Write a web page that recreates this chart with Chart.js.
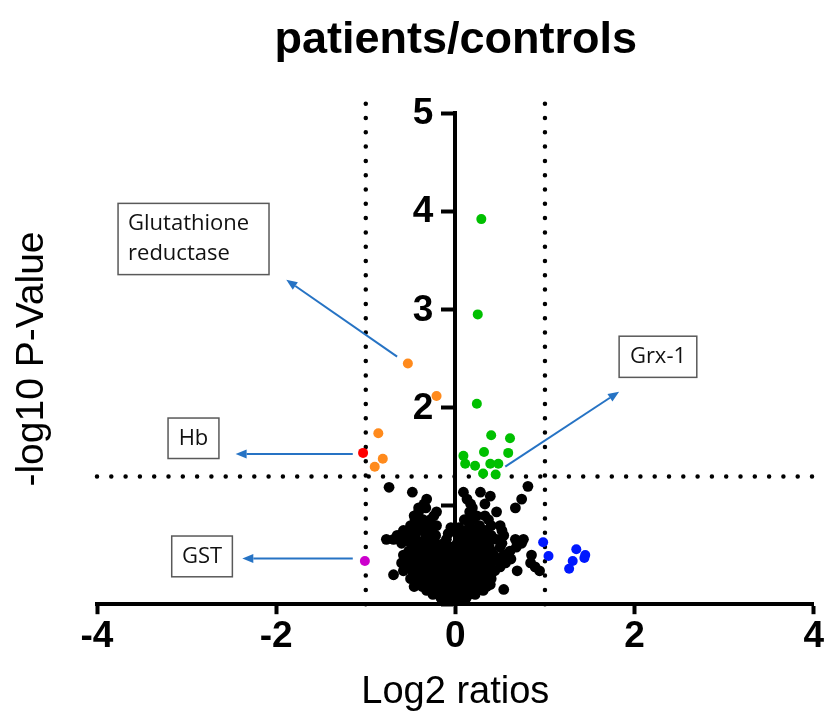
<!DOCTYPE html>
<html>
<head>
<meta charset="utf-8">
<script src="https://cdn.jsdelivr.net/npm/chart.js@4.4.1/dist/chart.umd.min.js"></script>
<style>
  html, body { margin: 0; padding: 0; background: #fff; }
</style>
</head>
<body>
<canvas id="volcano" width="824" height="718"></canvas>
<script>
// axis ticks
const xTicks = [-4, -2, 0, 2, 4];
const yTicks = [0, 1, 2, 3, 4, 5];
const yTickLabels = ["", "", "2", "3", "4", "5"];

// cut-offs: -log10(0.05) and log2 fold change of +/-1
const pCutoff = 1.3;
const foldCutoffs = [-1, 1];

// coloured proteins [log2 ratio, -log10 p]
const orangePoints = [[-0.53, 2.45], [-0.21, 2.12], [-0.86, 1.74], [-0.81, 1.48], [-0.90, 1.40]];
const redPoints = [[-1.03, 1.54]];
const greenPoints = [
  [0.29, 3.92], [0.25, 2.95], [0.24, 2.04], [0.40, 1.72], [0.61, 1.69], [0.32, 1.55],
  [0.59, 1.54], [0.09, 1.51], [0.11, 1.43], [0.22, 1.41], [0.39, 1.43], [0.48, 1.43],
  [0.31, 1.33], [0.45, 1.32]
];
const magentaPoints = [[-1.01, 0.44]];
const bluePoints = [[0.98, 0.63], [1.04, 0.49], [1.35, 0.56], [1.44, 0.47], [1.31, 0.44], [1.27, 0.36], [1.45, 0.5]];

// non significant proteins
const blackPoints = [
  [-0.08, 0.02], [-0.02, 0.02], [0.04, 0.02],
  [-0.16, 0.06], [-0.09, 0.06], [-0.02, 0.06], [0.05, 0.06], [0.12, 0.06],
  [-0.25, 0.10], [-0.17, 0.10], [-0.09, 0.10], [-0.01, 0.10], [0.07, 0.10], [0.15, 0.10], [0.22, 0.10],
  [-0.32, 0.14], [-0.24, 0.14], [-0.16, 0.14], [-0.08, 0.14], [0.00, 0.14], [0.08, 0.14], [0.16, 0.14], [0.24, 0.14], [0.31, 0.14],
  [0.54, 0.15],
  [-0.46, 0.18], [-0.37, 0.18], [-0.29, 0.18], [-0.21, 0.18], [-0.13, 0.18], [-0.05, 0.18], [0.03, 0.18], [0.11, 0.18], [0.19, 0.18], [0.27, 0.18], [0.35, 0.18],
  [0.39, 0.20],
  [-0.41, 0.22], [-0.33, 0.22], [-0.25, 0.22], [-0.17, 0.22], [-0.09, 0.22], [-0.01, 0.22], [0.07, 0.22], [0.15, 0.22], [0.23, 0.22], [0.31, 0.22],
  [-0.50, 0.26], [-0.40, 0.26], [-0.32, 0.26], [-0.24, 0.26], [-0.16, 0.26], [-0.08, 0.26], [0.00, 0.26], [0.08, 0.26], [0.16, 0.26], [0.24, 0.26], [0.32, 0.26], [0.40, 0.26],
  [-0.69, 0.30], [-0.44, 0.30], [-0.36, 0.30], [-0.28, 0.30], [-0.20, 0.30], [-0.12, 0.30], [-0.04, 0.30], [0.04, 0.30], [0.12, 0.30], [0.20, 0.30], [0.28, 0.30], [0.39, 0.30],
  [-0.58, 0.34], [-0.48, 0.34], [-0.40, 0.34], [-0.32, 0.34], [-0.24, 0.34], [-0.16, 0.34], [-0.08, 0.34], [0.00, 0.34], [0.08, 0.34], [0.16, 0.34], [0.24, 0.34], [0.32, 0.34], [0.44, 0.34], [0.69, 0.34],
  [-0.54, 0.38], [-0.45, 0.38], [-0.37, 0.38], [-0.29, 0.38], [-0.21, 0.38], [-0.13, 0.38], [-0.05, 0.38], [0.03, 0.38], [0.11, 0.38], [0.19, 0.38], [0.27, 0.38], [0.36, 0.38], [0.50, 0.38], [0.89, 0.38],
  [-0.60, 0.42], [-0.50, 0.42], [-0.41, 0.42], [-0.33, 0.42], [-0.25, 0.42], [-0.17, 0.42], [-0.09, 0.42], [-0.01, 0.42], [0.07, 0.42], [0.15, 0.42], [0.23, 0.42], [0.31, 0.42], [0.40, 0.42], [0.56, 0.42], [0.84, 0.42], [0.94, 0.34],
  [-0.56, 0.46], [-0.45, 0.46], [-0.37, 0.46], [-0.29, 0.46], [-0.21, 0.46], [-0.13, 0.46], [-0.05, 0.46], [0.03, 0.46], [0.11, 0.46], [0.19, 0.46], [0.27, 0.46], [0.35, 0.46], [0.46, 0.46], [0.62, 0.46],
  [-0.58, 0.50], [-0.49, 0.50], [-0.40, 0.50], [-0.32, 0.50], [-0.24, 0.50], [-0.16, 0.50], [-0.08, 0.50], [0.00, 0.50], [0.08, 0.50], [0.16, 0.50], [0.24, 0.50], [0.33, 0.50], [0.43, 0.50], [0.54, 0.50], [0.85, 0.50],
  [-0.52, 0.54], [-0.43, 0.54], [-0.35, 0.54], [-0.27, 0.54], [-0.19, 0.54], [-0.11, 0.54], [-0.03, 0.54], [0.05, 0.54], [0.13, 0.54], [0.21, 0.54], [0.29, 0.54], [0.40, 0.54], [0.61, 0.54],
  [-0.45, 0.58], [-0.36, 0.58], [-0.28, 0.58], [-0.20, 0.58], [-0.12, 0.58], [-0.04, 0.58], [0.04, 0.58], [0.12, 0.58], [0.20, 0.58], [0.28, 0.58], [0.38, 0.58], [0.50, 0.58], [0.68, 0.58],
  [-0.60, 0.62], [-0.50, 0.62], [-0.40, 0.62], [-0.30, 0.62], [-0.22, 0.62], [-0.13, 0.62], [0.02, 0.62], [0.10, 0.62], [0.18, 0.62], [0.27, 0.62], [0.37, 0.62], [0.52, 0.62], [0.74, 0.62],
  [-0.77, 0.66], [-0.69, 0.66], [-0.62, 0.66], [-0.54, 0.66], [-0.44, 0.66], [-0.34, 0.66], [-0.24, 0.66], [-0.10, 0.66], [0.06, 0.66], [0.14, 0.66], [0.22, 0.66], [0.30, 0.66], [0.46, 0.66], [0.67, 0.66], [0.76, 0.66],
  [-0.65, 0.70], [-0.55, 0.70], [-0.45, 0.70], [-0.32, 0.70], [-0.22, 0.70], [-0.08, 0.72], [0.03, 0.72], [0.09, 0.70], [0.18, 0.70], [0.28, 0.70], [0.40, 0.70], [0.54, 0.70],
  [-0.58, 0.75], [-0.48, 0.75], [-0.38, 0.75], [-0.27, 0.75], [0.12, 0.75], [0.22, 0.75], [0.33, 0.75], [0.52, 0.75],
  [-0.50, 0.80], [-0.41, 0.80], [-0.30, 0.80], [-0.21, 0.80], [-0.05, 0.78], [0.04, 0.78], [0.16, 0.80], [0.27, 0.80], [0.40, 0.80], [0.50, 0.80],
  [-0.45, 0.86], [-0.36, 0.86], [-0.28, 0.86], [0.10, 0.86], [0.20, 0.86], [0.37, 0.86],
  [-0.46, 0.90], [-0.24, 0.90], [0.24, 0.90], [0.33, 0.90],
  [-0.41, 0.94], [-0.21, 0.94], [0.16, 0.94], [0.46, 0.94],
  [-0.41, 0.98], [-0.33, 0.98], [0.19, 0.98], [0.67, 0.98],
  [-0.35, 1.02], [0.17, 1.02], [0.33, 1.02],
  [-0.32, 1.07], [0.13, 1.07], [0.74, 1.07],
  [0.39, 1.10],
  [-0.48, 1.14], [0.09, 1.14], [0.28, 1.14],
  [-0.74, 1.19], [0.81, 1.20]
];

// labelled proteins: box corners and arrow in data units
const callouts = [
  { lines: ["Glutathione", "reductase"], align: "left", box: [-3.765, 4.08, -2.08, 3.355], from: [-0.65, 2.52], to: [-1.887, 3.303] },
  { lines: ["Hb"], align: "center", box: [-3.207, 1.895, -2.639, 1.483], from: [-1.145, 1.528], to: [-2.453, 1.528] },
  { lines: ["GST"], align: "center", box: [-3.166, 0.694, -2.489, 0.279], from: [-1.145, 0.466], to: [-2.378, 0.466] },
  { lines: ["Grx-1"], align: "center", box: [1.828, 2.728, 2.695, 2.309], from: [0.557, 1.401], to: [1.828, 2.163] }
];

const toXY = arr => arr.map(p => ({ x: p[0], y: p[1] }));
const tickFont = "'Liberation Sans', Arial, sans-serif";
const textFont = "'Liberation Sans', Arial, sans-serif";

function dotsDataset(data) {
  return {
    data: data,
    showLine: true,
    pointRadius: 0,
    borderColor: "#000",
    borderWidth: 4.5,
    borderDash: [0, 14.3],
    borderCapStyle: "round",
    clip: false
  };
}

function pointsDataset(data, color, r) {
  return {
    data: toXY(data),
    backgroundColor: color,
    borderWidth: 0,
    pointRadius: r,
    pointHoverRadius: r
  };
}

const calloutPlugin = {
  id: "callouts",
  afterDatasetsDraw(chart) {
    const { ctx, scales: { x, y } } = chart;
    ctx.save();
    callouts.forEach(c => {
      const x1 = x.getPixelForValue(c.box[0]), y1 = y.getPixelForValue(c.box[1]);
      const x2 = x.getPixelForValue(c.box[2]), y2 = y.getPixelForValue(c.box[3]);
      ctx.fillStyle = "#fff";
      ctx.fillRect(x1, y1, x2 - x1, y2 - y1);
      ctx.strokeStyle = "#595959";
      ctx.lineWidth = 1.5;
      ctx.strokeRect(x1, y1, x2 - x1, y2 - y1);

      ctx.fillStyle = "#111";
      ctx.font = "22px 'Open Sans', sans-serif";
      ctx.textBaseline = "middle";
      const lh = 30;
      const top = (y1 + y2) / 2 - (c.lines.length - 1) * lh / 2;
      c.lines.forEach((t, i) => {
        if (c.align === "left") {
          ctx.textAlign = "left";
          ctx.fillText(t, x1 + 10, top + i * lh);
        } else {
          ctx.textAlign = "center";
          ctx.fillText(t, (x1 + x2) / 2, top + i * lh);
        }
      });

      // arrow
      const fx = x.getPixelForValue(c.from[0]), fy = y.getPixelForValue(c.from[1]);
      const tx = x.getPixelForValue(c.to[0]), ty = y.getPixelForValue(c.to[1]);
      const ang = Math.atan2(ty - fy, tx - fx);
      const head = 11, half = 4.5;
      ctx.strokeStyle = "#2673C4";
      ctx.fillStyle = "#2673C4";
      ctx.lineWidth = 2;
      ctx.beginPath();
      ctx.moveTo(fx, fy);
      ctx.lineTo(tx - Math.cos(ang) * head, ty - Math.sin(ang) * head);
      ctx.stroke();
      ctx.beginPath();
      ctx.moveTo(tx, ty);
      ctx.lineTo(tx - Math.cos(ang) * head - Math.sin(ang) * half, ty - Math.sin(ang) * head + Math.cos(ang) * half);
      ctx.lineTo(tx - Math.cos(ang) * head + Math.sin(ang) * half, ty - Math.sin(ang) * head - Math.cos(ang) * half);
      ctx.closePath();
      ctx.fill();
    });
    ctx.restore();
  }
};

// y tick labels to the left of the axis that crosses at x = 0
const yLabelPlugin = {
  id: "yLabels",
  beforeDatasetsDraw(chart) {
    const { ctx, scales: { x, y } } = chart;
    const axisX = x.getPixelForValue(0);
    ctx.save();
    ctx.font = "bold 37px " + tickFont;
    ctx.fillStyle = "#000";
    ctx.textAlign = "right";
    ctx.textBaseline = "middle";
    yTicks.forEach((v, i) => {
      if (yTickLabels[i]) ctx.fillText(yTickLabels[i], axisX - 22, y.getPixelForValue(v) + 1);
    });
    ctx.restore();
  }
};

// y title sits at the far left, away from the axis drawn at x = 0
const yTitlePlugin = {
  id: "yTitle",
  afterDraw(chart) {
    const ctx = chart.ctx;
    ctx.save();
    ctx.translate(43, 359);
    ctx.rotate(-Math.PI / 2);
    ctx.font = "39px " + textFont;
    ctx.fillStyle = "#000";
    ctx.textAlign = "center";
    ctx.textBaseline = "alphabetic";
    ctx.fillText("-log10 P-Value", 0, 0);
    ctx.restore();
  }
};

new Chart(document.getElementById("volcano"), {
  type: "scatter",
  data: {
    datasets: [
      pointsDataset(orangePoints, "#FF8A1C", 5),
      pointsDataset(redPoints, "#FF0000", 5),
      pointsDataset(greenPoints, "#00C000", 5),
      pointsDataset(magentaPoints, "#CC00CC", 5),
      pointsDataset(bluePoints, "#0018FF", 5),
      pointsDataset(blackPoints, "#000000", 5.4),
      dotsDataset([{ x: xTicks[0], y: pCutoff }, { x: xTicks[xTicks.length - 1], y: pCutoff }]),
      dotsDataset([{ x: foldCutoffs[0], y: 0 }, { x: foldCutoffs[0], y: 5.1 }]),
      dotsDataset([{ x: foldCutoffs[1], y: 0 }, { x: foldCutoffs[1], y: 5.1 }])
    ]
  },
  options: {
    responsive: false,
    devicePixelRatio: 1,
    animation: false,
    layout: { padding: { left: 97, right: 9.4, top: 0, bottom: 2.8 } },
    plugins: {
      legend: { display: false },
      tooltip: { enabled: false },
      title: {
        display: true,
        text: "patients/controls",
        color: "#000",
        font: { family: textFont, size: 45, weight: "bold" },
        padding: { top: 14, bottom: 45 }
      }
    },
    scales: {
      x: {
        type: "linear",
        min: xTicks[0],
        max: xTicks[xTicks.length - 1],
        afterBuildTicks: s => { s.ticks = xTicks.map(v => ({ value: v })); },
        ticks: {
          color: "#000",
          padding: 0,
          maxRotation: 0,
          autoSkip: false,
          font: { family: tickFont, size: 37, weight: "bold" }
        },
        grid: { drawOnChartArea: false, drawTicks: true, tickLength: 10, tickWidth: 4, tickColor: "#000" },
        border: { display: true, color: "#000", width: 4 },
        title: {
          display: true,
          text: "Log2 ratios",
          color: "#000",
          font: { family: textFont, size: 38 },
          padding: { top: 11, bottom: 0 }
        }
      },
      y: {
        type: "linear",
        position: { x: 0 },
        min: yTicks[0],
        max: yTicks[yTicks.length - 1],
        afterBuildTicks: s => { s.ticks = yTicks.map(v => ({ value: v })); },
        ticks: { display: false },
        grid: { drawOnChartArea: false, drawTicks: true, tickLength: 12, tickWidth: 4, tickColor: "#000" },
        border: { display: true, color: "#000", width: 4 },
        title: { display: false }
      }
    }
  },
  plugins: [yLabelPlugin, calloutPlugin, yTitlePlugin]
});
</script>
</body>
</html>
